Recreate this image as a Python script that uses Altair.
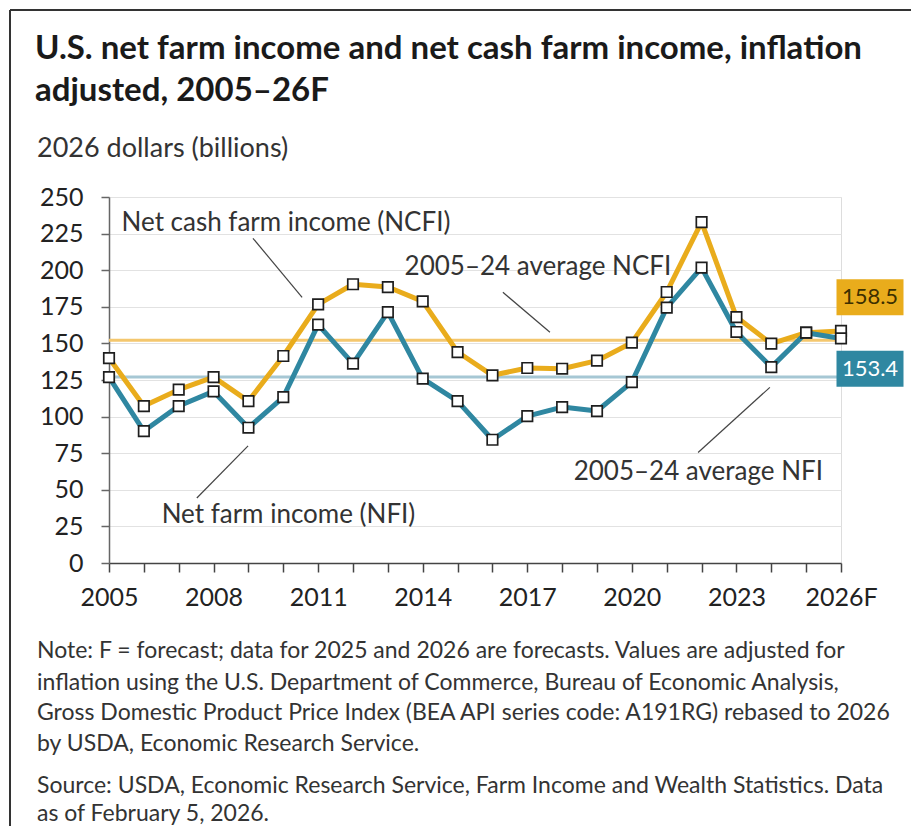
import altair as alt
import pandas as pd

YEARS = [2005, 2006, 2007, 2008, 2009, 2010, 2011, 2012, 2013, 2014, 2015,
         2016, 2017, 2018, 2019, 2020, 2021, 2022, 2023, 2024, 2025, 2026]
NCFI = [140.0, 107.2, 118.4, 127.0, 110.6, 141.4, 176.7, 190.4, 188.5, 178.7, 144.1,
        128.2, 133.2, 132.7, 138.2, 150.5, 185.1, 232.9, 168.0, 149.8, 157.3, 158.5]
NFI = [127.0, 90.1, 107.2, 117.2, 92.4, 113.3, 162.8, 136.2, 171.4, 125.9, 110.6,
       84.2, 100.3, 106.5, 103.8, 123.6, 174.4, 201.8, 157.8, 133.8, 157.3, 153.4]
SERIES = ["NCFI", "NFI"]
END_LABELS = ["158.5", "153.4"]
Y_TICKS = [0, 25, 50, 75, 100, 125, 150, 175, 200, 225, 250]

TITLE_LINES = ["U.S. net farm income and net cash farm income, inflation",
               "adjusted, 2005–26F"]
SUBTITLE = "2026 dollars (billions)"
NOTE_LINES = [
    "Note: F = forecast; data for 2025 and 2026 are forecasts. Values are adjusted for",
    "inflation using the U.S. Department of Commerce, Bureau of Economic Analysis,",
    "Gross Domestic Product Price Index (BEA API series code: A191RG) rebased to 2026",
    "by USDA, Economic Research Service.",
    "Source: USDA, Economic Research Service, Farm Income and Wealth Statistics. Data",
    "as of February 5, 2026.",
]

ANNOT_TEXT = ["Net cash farm income (NCFI)", "2005–24 average NCFI",
              "2005–24 average NFI", "Net farm income (NFI)"]
ANNOT_X = [2005.36, 2013.48, 2018.33, 2006.51]
ANNOT_Y = [232.1, 202.0, 61.9, 32.5]
LEADER_X1 = [2009.13, 2016.30, 2021.90, 2007.52]
LEADER_Y1 = [221.8, 184.9, 75.5, 44.4]
LEADER_X2 = [2010.54, 2017.65, 2023.96, 2008.99]
LEADER_Y2 = [181.5, 157.6, 120.0, 80.0]

ORANGE = "#E9AC1C"
BLUE = "#2F87A1"
ORANGE_AVG = "#F4C76E"
BLUE_AVG = "#A6C7D4"
FONT = "Lato"
W, H = 732, 366

df = pd.DataFrame({
    "year": YEARS * 2,
    "value": NCFI + NFI,
    "series": ["NCFI"] * len(YEARS) + ["NFI"] * len(YEARS),
})
ends = pd.DataFrame({
    "year": [YEARS[-1], YEARS[-1]],
    "value": [NCFI[-1], NFI[-1]],
    "series": SERIES,
    "label": END_LABELS,
})
annot = pd.DataFrame({"text": ANNOT_TEXT, "x": ANNOT_X, "y": ANNOT_Y})
leaders = pd.DataFrame({"x1": LEADER_X1, "y1": LEADER_Y1, "x2": LEADER_X2, "y2": LEADER_Y2})

label_expr = ("(datum.value - 2005) % 3 == 0 ? "
              "(datum.value == 2026 ? '2026F' : format(datum.value, 'd')) : ''")

X_AXIS = alt.Axis(values=YEARS, labelExpr=label_expr, title=None, grid=False,
                  domainColor="#444", domainWidth=1.5, tickColor="#444",
                  tickWidth=1.5, tickSize=9, labelFontSize=25, labelColor="#222",
                  labelPadding=13, labelFont=FONT, labelFlush=False,
                  labelOverlap=False, labelBound=False)
Y_AXIS = alt.Axis(values=Y_TICKS, title=None, grid=True,
                  gridColor="#e2e2e2", gridWidth=1, domainColor="#666",
                  domainWidth=1.5, tickColor="#666", tickWidth=1.5, tickSize=8,
                  labelFontSize=25, labelColor="#222", labelPadding=18,
                  labelFont=FONT, labelOverlap=False, labelBound=False)
X_SCALE = alt.Scale(domain=[2005, 2026], nice=False, zero=False)
Y_SCALE = alt.Scale(domain=[0, 250], nice=False)


def xe(field):
    return alt.X(field, type="quantitative", scale=X_SCALE, axis=X_AXIS)


def ye(field):
    return alt.Y(field, type="quantitative", scale=Y_SCALE, axis=Y_AXIS)


base = alt.Chart(df)

avg_layers = []
for s, c in zip(SERIES, [ORANGE_AVG, BLUE_AVG]):
    avg_layers.append(
        base.transform_filter(f"datum.series == '{s}' && datum.year <= 2024")
        .transform_aggregate(avg="mean(value)")
        .mark_rule(strokeWidth=3, color=c)
        .encode(y=ye("avg"))
    )

line_layers = []
for s, c in zip(SERIES, [ORANGE, BLUE]):
    line_layers.append(
        base.transform_filter(f"datum.series == '{s}'")
        .mark_line(strokeWidth=5, color=c, strokeJoin="round")
        .encode(x=xe("year"), y=ye("value"))
    )

squares = base.mark_square(size=110, fill="white", stroke="#1e1e1e",
                           strokeWidth=1.7, opacity=1).encode(x=xe("year"), y=ye("value"))

leader_rules = alt.Chart(leaders).mark_rule(color="#444", strokeWidth=1.2).encode(
    x=xe("x1"), y=ye("y1"), x2="x2:Q", y2="y2:Q")
annot_text = alt.Chart(annot).mark_text(align="left", baseline="middle", font=FONT,
                                        fontSize=26, color="#333").encode(
    x=xe("x"), y=ye("y"), text="text:N")

box_layers = []
for s, c, tc, yo in zip(SERIES, [ORANGE, BLUE], ["#3d3000", "white"], [-33.6, 30.4]):
    e = alt.Chart(ends).transform_filter(f"datum.series == '{s}'")
    box_layers.append(e.mark_rect(width=67, height=36, color=c, xOffset=29, yOffset=yo)
                      .encode(x=xe("year"), y=ye("value")))
    box_layers.append(e.mark_text(fontSize=22, font=FONT, color=tc, xOffset=29, yOffset=yo,
                                  baseline="middle", align="center")
                      .encode(x=xe("year"), y=ye("value"), text="label:N"))

one = pd.DataFrame({"k": [0]})
text_layers = []
for t, yy in zip(TITLE_LINES, [-138, -96]):
    text_layers.append(alt.Chart(one).mark_text(align="left", baseline="alphabetic",
                                                font=FONT, fontSize=33, fontWeight="bold",
                                                color="#1a1a1a", text=t)
                       .encode(x=alt.value(-74), y=alt.value(yy)))
text_layers.append(alt.Chart(one).mark_text(align="left", baseline="alphabetic", font=FONT,
                                            fontSize=27, color="#333", text=SUBTITLE)
                   .encode(x=alt.value(-72), y=alt.value(-40)))
for t, yy in zip(NOTE_LINES, [461, 493, 523, 554, 596, 624]):
    text_layers.append(alt.Chart(one).mark_text(align="left", baseline="alphabetic",
                                                font=FONT, fontSize=23, color="#333", text=t)
                       .encode(x=alt.value(-72), y=alt.value(yy)))

frame = [
    alt.Chart(one).mark_rule(color="#333", strokeWidth=2).encode(
        x=alt.value(-99), y=alt.value(-187), y2=alt.value(H + 300)),
    alt.Chart(one).mark_rule(color="#333", strokeWidth=2).encode(
        x=alt.value(-99), x2=alt.value(W + 120), y=alt.value(-187)),
]

chart = alt.layer(
    *avg_layers, *line_layers, squares, leader_rules, annot_text, *box_layers,
    *text_layers, *frame
).properties(
    width=W, height=H,
    autosize=alt.AutoSizeParams(type="none"),
    padding={"left": 101, "top": 189, "right": 70, "bottom": 263},
).configure_view(stroke=None).configure(background="white").configure_axis(
    labelOverlap=False
)

chart.save("out.html", embed_options={"renderer": "svg", "actions": False})
